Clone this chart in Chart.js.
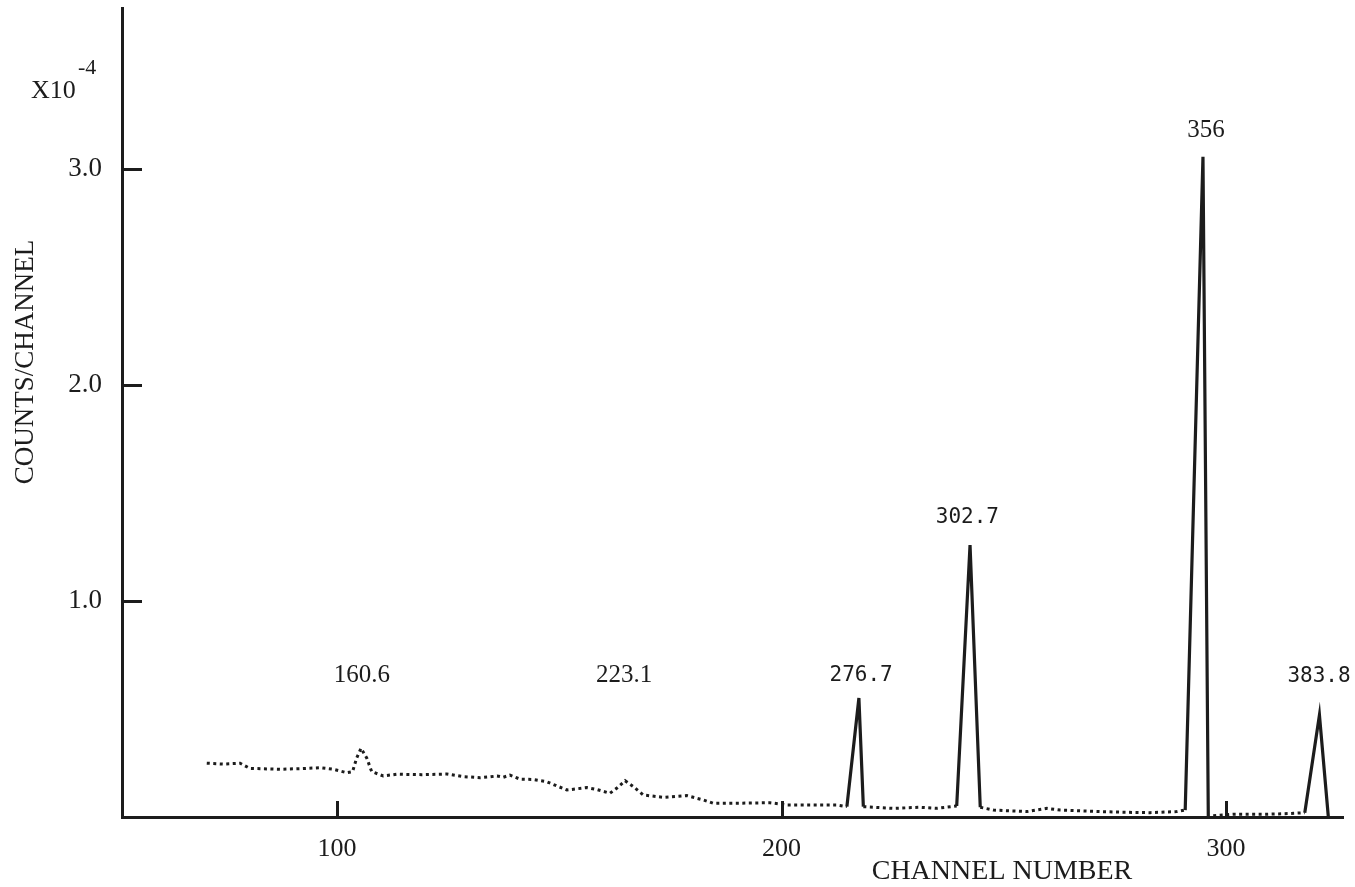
<!DOCTYPE html>
<html>
<head>
<meta charset="utf-8">
<script src="https://cdn.jsdelivr.net/npm/chart.js@4.4.0/dist/chart.umd.min.js"></script>
<style>
  html, body { margin: 0; padding: 0; background: #fff; }
  canvas { display: block; }
</style>
</head>
<body>
<canvas id="spectrum" width="1355" height="887"></canvas>
<script>
(function(){
  'use strict';

  // dotted background trace, null = gap where a solid peak is drawn
  const traceChannels = [70.7, 74.4, 78.2, 80.4, 87.2, 92, 96.2, 99.2, 102.2, 103.5, 104.4, 105.4, 106.7, 107.8,
    110.4, 113.4, 119, 124.7, 128.4, 132.2, 134.4, 136, 137.4, 138.9, 141.2, 144, 147.2, 151.7, 156.2, 158.5,
    161.4, 162.9, 164.8, 166.7, 168.9, 173.4, 178.7, 182.4, 184.7, 191, 197.4, 201.2, 208.7, 212.4, 214.7,
    216, 218.4, 225.1, 231.2, 234.9, 239.4,
    241, 244.7, 247.7, 252, 255.2, 259.7, 262.7, 271.7, 277, 282.9, 288.9, 290.8,
    293, 297.1, 301.6, 309.1, 314, 317.7];
  const traceCounts = [0.249, 0.245, 0.249, 0.225, 0.221, 0.224, 0.228, 0.221, 0.205, 0.21, 0.272, 0.318, 0.272, 0.21,
    0.19, 0.198, 0.196, 0.199, 0.187, 0.182, 0.186, 0.19, 0.184, 0.194, 0.175, 0.174, 0.163, 0.125, 0.136, 0.127,
    0.11, 0.133, 0.168, 0.14, 0.102, 0.091, 0.099, 0.079, 0.063, 0.064, 0.066, 0.056, 0.056, 0.056, 0.048,
    null, 0.048, 0.04, 0.045, 0.04, 0.051,
    null, 0.045, 0.032, 0.028, 0.025, 0.04, 0.032, 0.025, 0.022, 0.02, 0.025, 0.032,
    null, 0.006, 0.0125, 0.0125, 0.016, 0.02];

  // solid peaks
  const peakChannels = [
    [214.7, 217.4, 218.4],
    [239.4, 242.4, 244.7],
    [290.8, 294.8, 296.0],
    [317.7, 321.0, 323.0]
  ];
  const peakCounts = [
    [0.048, 0.551, 0.048],
    [0.051, 1.259, 0.045],
    [0.032, 3.056, 0.0],
    [0.02, 0.472, 0.0]
  ];

  const peakLabels = ['160.6', '223.1', '276.7', '302.7', '356', '383.8'];
  const labelChannels = [105.6, 164.6, 217.9, 241.8, 295.5, 320.9];
  const labelLevels = [0.657, 0.657, 0.657, 1.387, 3.176, 0.648];

  const xTicks = [100, 200, 300];
  const yTicks = [1, 2, 3];

  const INK = '#1c1c1c';
  const SERIF = '"Liberation Serif", "DejaVu Serif", serif';
  const MONO = '"DejaVu Sans Mono", "Liberation Mono", monospace';
  const serifLabels = [0, 1, 4];

  const pts = (xs, ys) => xs.map((c, i) => ({ x: c, y: ys[i] }));

  const datasets = [{
    data: pts(traceChannels, traceCounts),
    borderColor: INK,
    borderWidth: 3,
    borderDash: [3, 3.5],
    pointRadius: 0,
    spanGaps: false,
    tension: 0
  }];
  peakChannels.forEach((xs, i) => {
    datasets.push({
      data: pts(xs, peakCounts[i]),
      borderColor: INK,
      borderWidth: 3.2,
      pointRadius: 0,
      tension: 0
    });
  });

  const noPad = (s) => { s.paddingTop = 0; s.paddingBottom = 0; s.paddingLeft = 0; s.paddingRight = 0; };

  const annotate = {
    id: 'annotate',
    afterDraw(chart) {
      const { ctx, chartArea, scales: { x, y } } = chart;
      ctx.save();
      ctx.fillStyle = INK;
      ctx.strokeStyle = INK;

      // inward tick marks
      ctx.lineWidth = 3;
      yTicks.forEach((v) => {
        const py = Math.round(y.getPixelForValue(v)) + 0.5;
        ctx.beginPath();
        ctx.moveTo(chartArea.left, py);
        ctx.lineTo(chartArea.left + 20, py);
        ctx.stroke();
      });
      xTicks.forEach((v) => {
        const px = Math.round(x.getPixelForValue(v)) + 0.5;
        ctx.beginPath();
        ctx.moveTo(px, chartArea.bottom);
        ctx.lineTo(px, chartArea.bottom - 16);
        ctx.stroke();
      });

      // peak energies
      ctx.textAlign = 'center';
      ctx.textBaseline = 'middle';
      peakLabels.forEach((t, i) => {
        ctx.font = serifLabels.includes(i) ? `25px ${SERIF}` : `21px ${MONO}`;
        ctx.fillText(t, x.getPixelForValue(labelChannels[i]), y.getPixelForValue(labelLevels[i]));
      });

      // axis titles
      ctx.textBaseline = 'alphabetic';
      ctx.font = `28px ${SERIF}`;
      ctx.fillText('CHANNEL NUMBER', 1002, 879);
      ctx.save();
      ctx.translate(33, 362);
      ctx.rotate(-Math.PI / 2);
      ctx.font = `27px ${SERIF}`;
      ctx.fillText('COUNTS/CHANNEL', 0, 0);
      ctx.restore();

      ctx.textAlign = 'left';
      ctx.font = `26px ${SERIF}`;
      ctx.fillText('X10', 31, 98);
      ctx.font = `22px ${SERIF}`;
      ctx.fillText('-4', 78, 74);
      ctx.restore();
    }
  };

  new Chart(document.getElementById('spectrum'), {
    type: 'line',
    data: { datasets },
    options: {
      responsive: false,
      animation: false,
      devicePixelRatio: 1,
      layout: { padding: { top: 8, right: 12, left: 0, bottom: 0 } },
      plugins: { legend: { display: false }, tooltip: { enabled: false } },
      scales: {
        x: {
          type: 'linear',
          min: 51.63,
          max: 326.3,
          afterBuildTicks: (s) => { s.ticks = xTicks.map((v) => ({ value: v })); },
          afterFit: (s) => { s.height = 70; noPad(s); },
          grid: { display: false },
          border: { display: true, width: 3, color: INK },
          ticks: { color: INK, padding: 9, maxRotation: 0, font: { family: SERIF, size: 26 } }
        },
        y: {
          type: 'linear',
          min: 0,
          max: 3.745,
          afterBuildTicks: (s) => { s.ticks = yTicks.map((v) => ({ value: v })); },
          afterFit: (s) => { s.width = 122; noPad(s); },
          grid: { display: false },
          border: { display: true, width: 3, color: INK },
          ticks: { color: INK, padding: 12, font: { family: SERIF, size: 27 }, callback: (v) => v.toFixed(1) }
        }
      }
    },
    plugins: [annotate]
  });
})();
</script>
</body>
</html>
